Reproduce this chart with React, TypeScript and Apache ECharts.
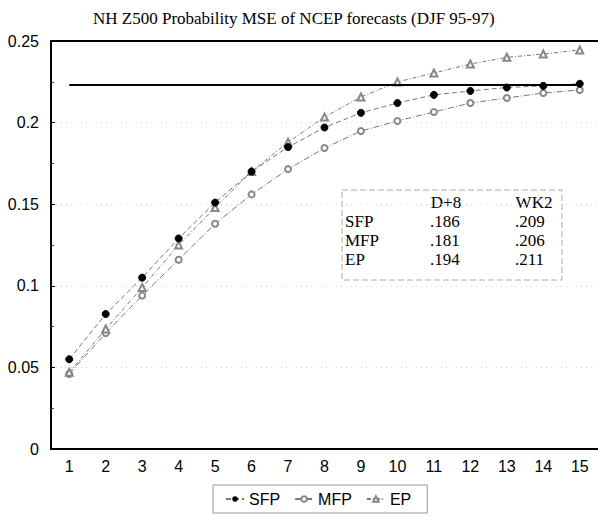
import React, { useEffect, useRef } from "react";
import * as echarts from "echarts";

const leadDays = ["1", "2", "3", "4", "5", "6", "7", "8", "9", "10", "11", "12", "13", "14", "15"];
const sfpValues = [0.055, 0.0827, 0.105, 0.129, 0.151, 0.170, 0.185, 0.197, 0.206, 0.212, 0.217, 0.2194, 0.2215, 0.2225, 0.2238];
const mfpValues = [0.046, 0.071, 0.094, 0.116, 0.138, 0.156, 0.1715, 0.1844, 0.1948, 0.201, 0.2065, 0.212, 0.2151, 0.2181, 0.220];
const epValues = [0.047, 0.0735, 0.099, 0.125, 0.148, 0.170, 0.188, 0.2034, 0.2157, 0.2249, 0.2304, 0.2359, 0.240, 0.242, 0.2445];
const referenceLevel = 0.223;

const tableHeader = ["", "D+8", "WK2"];
const tableRows = ["SFP", "MFP", "EP"];
const tableD8 = [".186", ".181", ".194"];
const tableWk2 = [".209", ".206", ".211"];

export default function App() {
  const ref = useRef<HTMLDivElement>(null);
  useEffect(() => {
    document.body.style.margin = "0";
    if (!ref.current) return;
    const chart = echarts.init(ref.current, undefined, { renderer: "svg" });
    const serif = "'Liberation Serif', 'Times New Roman', serif";
    const sans = "'Liberation Sans', Arial, sans-serif";
    const lineGray = "#777";

    const tableTexts: any[] = [];
    const rowY = [202, 221, 240, 259];
    tableHeader.forEach((h, i) => {
      if (!h) return;
      tableTexts.push({
        type: "text", x: i === 1 ? 446 : 534, y: rowY[0], silent: true,
        style: { text: h, fill: "#000", font: `17px ${serif}`, textAlign: "center", textVerticalAlign: "middle" },
      });
    });
    tableRows.forEach((r, i) => {
      const y = rowY[i + 1];
      tableTexts.push({
        type: "text", x: 345, y, silent: true,
        style: { text: r, fill: "#000", font: `17px ${serif}`, textAlign: "left", textVerticalAlign: "middle" },
      });
      tableTexts.push({
        type: "text", x: 430, y, silent: true,
        style: { text: tableD8[i], fill: "#000", font: `17px ${serif}`, textAlign: "left", textVerticalAlign: "middle" },
      });
      tableTexts.push({
        type: "text", x: 515, y, silent: true,
        style: { text: tableWk2[i], fill: "#000", font: `17px ${serif}`, textAlign: "left", textVerticalAlign: "middle" },
      });
    });

    chart.setOption({
      animation: false,
      backgroundColor: "#fff",
      title: {
        text: "NH Z500 Probability MSE of NCEP forecasts (DJF 95-97)",
        left: 88,
        top: 5,
        textStyle: { fontFamily: serif, fontWeight: "normal", fontSize: 17, color: "#000" },
      },
      grid: { left: 51, right: 0, top: 41, bottom: 68 },
      legend: {
        left: 213,
        top: 485,
        data: ["SFP", "MFP", "EP"],
        itemWidth: 18,
        itemHeight: 7,
        itemGap: 14,
        padding: [6, 16, 6, 12],
        borderColor: "#999",
        borderWidth: 1,
        textStyle: { fontFamily: sans, fontSize: 16, color: "#000" },
      },
      xAxis: [
        {
          type: "category",
          data: leadDays,
          boundaryGap: true,
          axisLine: { lineStyle: { color: "#000", width: 2 } },
          axisTick: { inside: true, alignWithLabel: true, length: 5, lineStyle: { color: "#000" } },
          axisLabel: { color: "#000", fontFamily: sans, fontSize: 16, margin: 9 },
          splitLine: { show: false },
        },
        {
          type: "category",
          data: leadDays,
          position: "top",
          axisLine: { lineStyle: { color: "#000", width: 2 } },
          axisTick: { show: false },
          axisLabel: { show: false },
        },
      ],
      yAxis: {
        type: "value",
        min: 0,
        max: 0.25,
        interval: 0.05,
        axisLine: { show: true, lineStyle: { color: "#000", width: 2 } },
        axisTick: { show: true, inside: true, length: 4, lineStyle: { color: "#000" } },
        minorTick: { show: true, splitNumber: 2, length: 3, lineStyle: { color: "#444" } },
        axisLabel: { color: "#000", fontFamily: sans, fontSize: 16, margin: 12 },
        splitLine: { show: true, lineStyle: { color: "#d4d4d4", type: [1, 4] } },
      },
      series: [
        {
          name: "SFP",
          type: "line",
          data: sfpValues,
          symbol: "circle",
          symbolSize: 7,
          itemStyle: { color: "#000", borderColor: "#000" },
          lineStyle: { color: lineGray, width: 1, type: [5, 3] },
          z: 4,
          markLine: {
            silent: true,
            symbol: "none",
            label: { show: false },
            lineStyle: { color: "#000", width: 2, type: "solid" },
            data: [[{ coord: [leadDays[0], referenceLevel] }, { coord: [leadDays[leadDays.length - 1], referenceLevel] }]],
          },
        },
        {
          name: "MFP",
          type: "line",
          data: mfpValues,
          symbol: "emptyCircle",
          symbolSize: 6,
          itemStyle: { color: "#888", borderColor: "#888", borderWidth: 1 },
          lineStyle: { color: lineGray, width: 1, type: [6, 2, 1, 2] },
          z: 3,
        },
        {
          name: "EP",
          type: "line",
          data: epValues,
          symbol: "emptyTriangle",
          symbolSize: 7,
          itemStyle: { color: "#888", borderColor: "#888", borderWidth: 1 },
          lineStyle: { color: lineGray, width: 1, type: [4, 2, 1, 2] },
          z: 3,
        },
      ],
      graphic: [
        {
          type: "rect",
          silent: true,
          shape: { x: 342, y: 190, width: 220, height: 90 },
          style: { fill: "none", stroke: "#aaa", lineWidth: 1, lineDash: [6, 3] },
        },
        ...tableTexts,
      ],
    });
    return () => chart.dispose();
  }, []);
  return <div ref={ref} style={{ width: 598, height: 517 }} />;
}
